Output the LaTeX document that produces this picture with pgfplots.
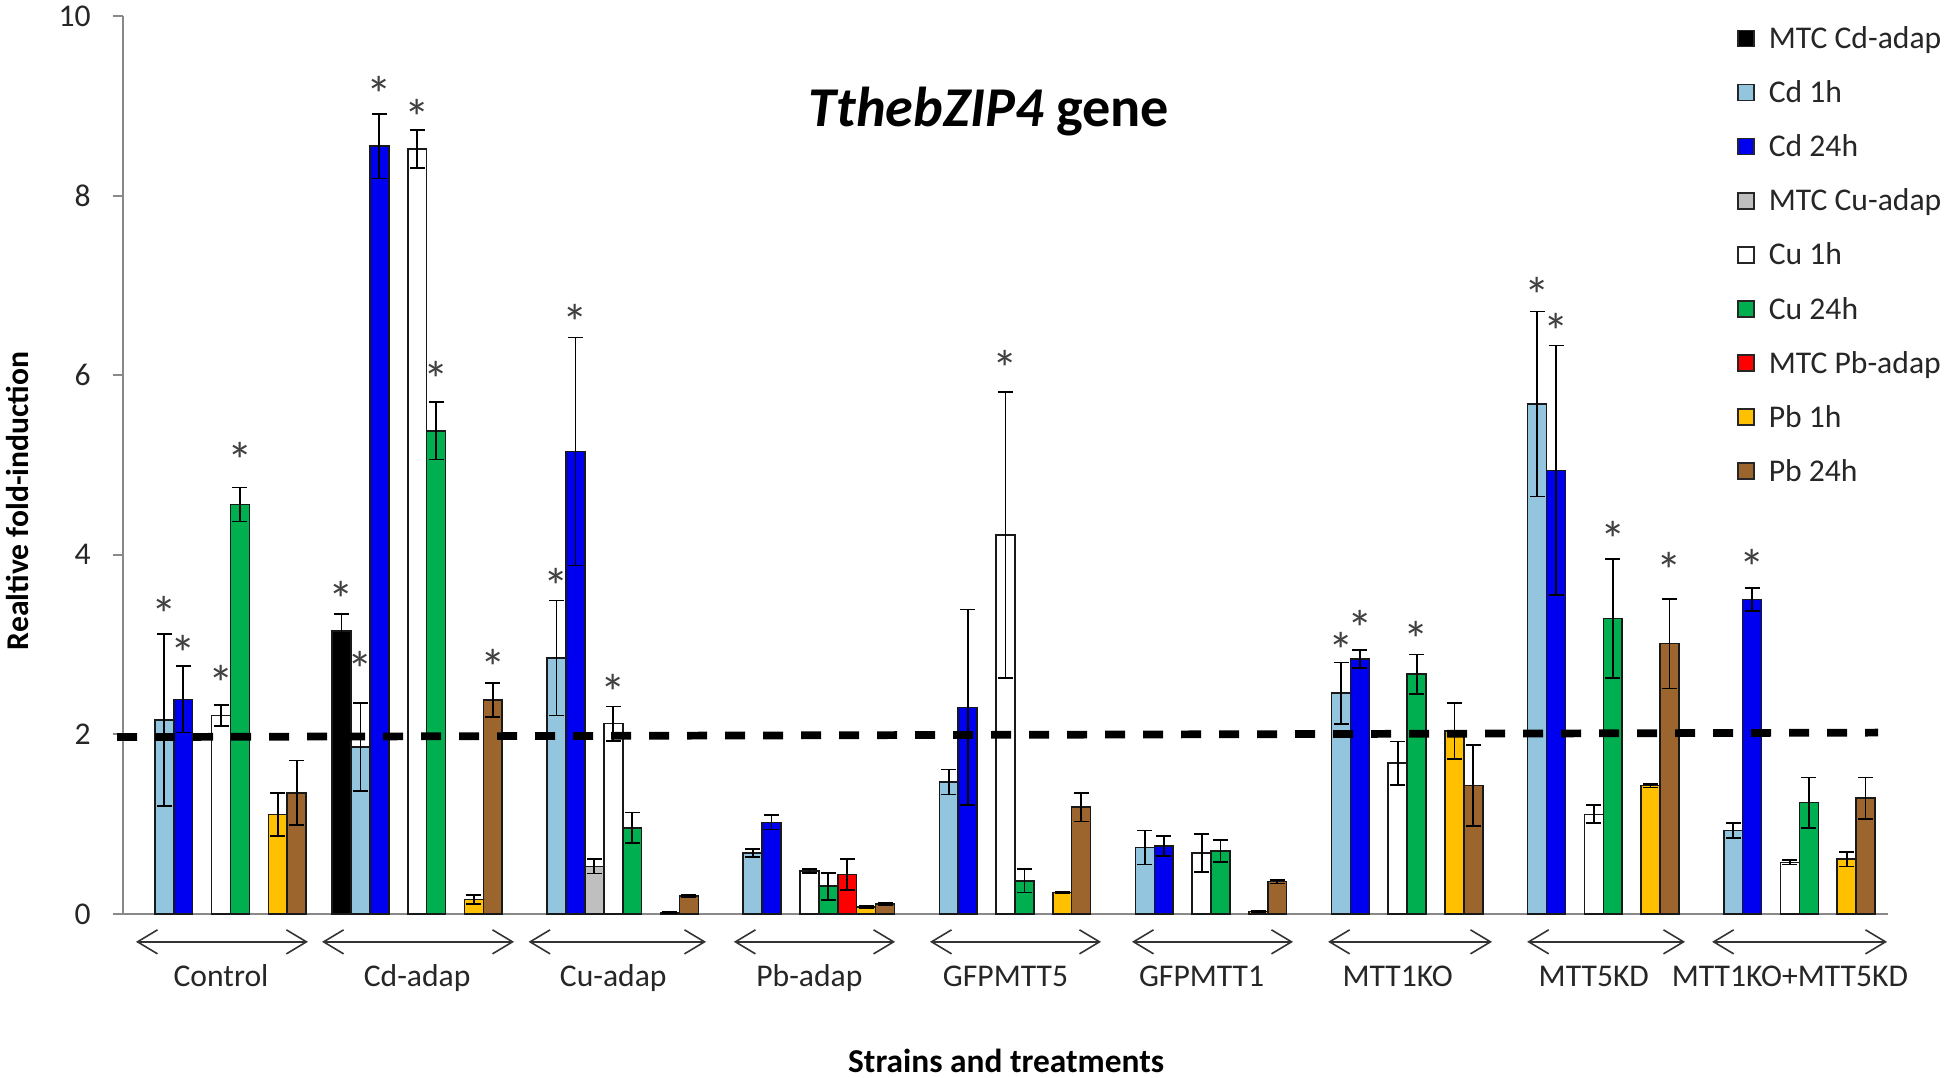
\documentclass[border=0pt]{standalone}
\usepackage{fontspec}
\setmainfont{Carlito}
\usepackage{pgfplots}
\pgfplotsset{compat=1.18}
\usetikzlibrary{arrows.meta}
\definecolor{CdOne}{RGB}{147,197,222}
\definecolor{CdDay}{RGB}{0,0,240}
\definecolor{CuMtc}{RGB}{191,191,191}
\definecolor{CuDay}{RGB}{0,176,80}
\definecolor{PbMtc}{RGB}{255,0,0}
\definecolor{PbOne}{RGB}{255,192,0}
\definecolor{PbDay}{RGB}{156,101,45}
\definecolor{AxGrey}{RGB}{137,137,137}

% one style for every series: fill colour and slot shift (axis units)
\pgfplotsset{
  slot/.style 2 args={fill=#1, draw=black!90, line width=0.45pt,
    bar width=0.0964, bar shift=#2,
    error bars/y dir=both, error bars/y explicit,
    error bars/error bar style={line width=0.5pt,black},
    error bars/error mark options={rotate=90,line width=0.5pt,black,mark size=0.75mm}},
}

\begin{document}
\begin{tikzpicture}
\begin{axis}[
  name=ax, scale only axis,
  width=176.5mm, height=89.8mm,
  xmin=-0.5, xmax=8.5, ymin=0, ymax=10,
  ybar, clip=false,
  axis lines*=left,
  axis line style={AxGrey, line width=0.6pt},
  ytick={0,2,...,10},
  tick align=outside, major tick length=1mm,
  y tick style={AxGrey, line width=0.6pt},
  xtick={0,...,8},
  xticklabels={Control,Cd-adap,Cu-adap,Pb-adap,GFPMTT5,GFPMTT1,MTT1KO,MTT5KD,MTT1KO+MTT5KD},
  x tick style={draw=none},
  xticklabel style={anchor=base, yshift=-6.2mm, font=\fontsize{9}{10}\selectfont, text=black!85},
  yticklabel style={xshift=-1mm, font=\fontsize{9}{10}\selectfont, text=black!85},
  /pgf/number format/assume math mode=true,
  legend cell align=left,
  legend image code/.code={%
    \draw[#1,line width=0.5pt,draw=black!85] (0mm,-0.75mm) rectangle (1.6mm,0.85mm);
    \path[draw=none,fill=none] (1.6mm,-0.1mm) rectangle (2.6mm,0.1mm);},
  legend style={at={(rel axis cs:0.914,1.0)}, anchor=north west, draw=none, fill=none,
    inner sep=0pt, row sep=0.97mm, font=\fontsize{9}{10}\selectfont,
    nodes={inner sep=0.5mm, text height=1.6ex, text depth=0.45ex, text=black!85}},
]
\addplot[slot={black}{-0.3856}] coordinates {(1,3.15) +- (0,0.19)};
\addlegendentry{MTC Cd-adap}
\addplot[slot={CdOne}{-0.2892}] coordinates {
  (0,2.16) +- (0,0.96) (1,1.86) +- (0,0.49) (2,2.85) +- (0,0.64)
  (3,0.68) +- (0,0.045) (4,1.47) +- (0,0.14) (5,0.74) +- (0,0.19)
  (6,2.46) +- (0,0.34) (7,5.68) +- (0,1.03) (8,0.93) +- (0,0.085)};
\addlegendentry{Cd 1h}
\addplot[slot={CdDay}{-0.1928}] coordinates {
  (0,2.39) +- (0,0.37) (1,8.55) +- (0,0.36) (2,5.15) +- (0,1.27)
  (3,1.02) +- (0,0.08) (4,2.30) +- (0,1.09) (5,0.76) +- (0,0.11)
  (6,2.84) +- (0,0.10) (7,4.94) +- (0,1.39) (8,3.50) +- (0,0.13)};
\addlegendentry{Cd 24h}
\addplot[slot={CuMtc}{-0.0964}] coordinates {(2,0.53) +- (0,0.08)};
\addlegendentry{MTC Cu-adap}
\addplot[slot={white}{0}] coordinates {
  (0,2.21) +- (0,0.12) (1,8.52) +- (0,0.21) (2,2.12) +- (0,0.19)
  (3,0.48) +- (0,0.02) (4,4.22) +- (0,1.59) (5,0.68) +- (0,0.21)
  (6,1.68) +- (0,0.24) (7,1.11) +- (0,0.10) (8,0.575) +- (0,0.025)};
\addlegendentry{Cu 1h}
\addplot[slot={CuDay}{0.0964}] coordinates {
  (0,4.56) +- (0,0.19) (1,5.38) +- (0,0.32) (2,0.96) +- (0,0.17)
  (3,0.31) +- (0,0.15) (4,0.37) +- (0,0.13) (5,0.70) +- (0,0.12)
  (6,2.67) +- (0,0.22) (7,3.29) +- (0,0.66) (8,1.24) +- (0,0.28)};
\addlegendentry{Cu 24h}
\addplot[slot={PbMtc}{0.1928}] coordinates {(3,0.44) +- (0,0.17)};
\addlegendentry{MTC Pb-adap}
\addplot[slot={PbOne}{0.2892}] coordinates {
  (0,1.11) +- (0,0.24) (1,0.16) +- (0,0.05) (2,0.015) +- (0,0.005)
  (3,0.08) +- (0,0.01) (4,0.24) +- (0,0.01) (5,0.03) +- (0,0.005)
  (6,2.04) +- (0,0.31) (7,1.43) +- (0,0.02) (8,0.61) +- (0,0.08)};
\addlegendentry{Pb 1h}
\addplot[slot={PbDay}{0.3856}] coordinates {
  (0,1.35) +- (0,0.36) (1,2.38) +- (0,0.19) (2,0.20) +- (0,0.01)
  (3,0.11) +- (0,0.01) (4,1.19) +- (0,0.16) (5,0.36) +- (0,0.02)
  (6,1.43) +- (0,0.45) (7,3.01) +- (0,0.50) (8,1.29) +- (0,0.23)};
\addlegendentry{Pb 24h}

% threshold line
\addplot[sharp plot, forget plot, black, line width=2.2pt, dash pattern=on 2.0mm off 1.8mm]
  coordinates {(-0.53,1.97) (8.45,2.02)};

% significance stars
\addplot[only marks, forget plot, mark=text, text mark as node=true,
  text mark={\makebox[0pt]{*}},
  text mark style={font=\fontsize{14.5}{14.5}\selectfont, text=black!75, inner sep=0pt, yshift=-1.05mm}]
  coordinates {
  (-0.2892,3.45) (-0.1928,3.02) (0,2.68) (0.0964,5.17)
  (0.6144,3.62) (0.7108,2.84) (0.8072,9.24) (1,8.99) (1.0964,6.07) (1.3856,2.86)
  (1.7108,3.76) (1.8072,6.70) (2,2.58)
  (4,6.19)
  (5.7108,3.05) (5.8072,3.30) (6.0964,3.18)
  (6.7108,7.00) (6.8072,6.60) (7.0964,4.29) (7.3856,3.94)
  (7.8072,3.98)};

% group arrows under the axis
\foreach \a/\b in {-0.434/0.443, 0.515/1.494, 1.568/2.473, 2.615/3.437, 3.615/4.487,
                   4.645/5.466, 5.645/6.481, 6.660/7.465, 7.603/8.495}{
  \edef\tmp{\noexpand\draw[{Straight Barb[length=2mm,width=2.4mm]}-{Straight Barb[length=2mm,width=2.4mm]},
    line width=0.45pt, black!80] (axis cs:\a,-0.31) -- (axis cs:\b,-0.31);}\tmp
}

\node[anchor=base, font=\fontsize{16}{18}\selectfont\bfseries] at (axis cs:3.916,8.77)
  {\textit{TthebZIP4} gene};
\node[anchor=base, font=\fontsize{9.5}{11}\selectfont\bfseries] at (axis cs:4.003,-1.767)
  {Strains and treatments};
\node[rotate=90, font=\fontsize{9}{11}\selectfont\bfseries] at (axis cs:-1.04,4.6)
  {Realtive fold-induction};
\end{axis}
\pgfresetboundingbox
\path[use as bounding box] ([shift={(-12.3mm,-16.3mm)}]ax.south west)
  rectangle ([shift={(6.2mm,1.6mm)}]ax.north east);
\end{tikzpicture}
\end{document}
